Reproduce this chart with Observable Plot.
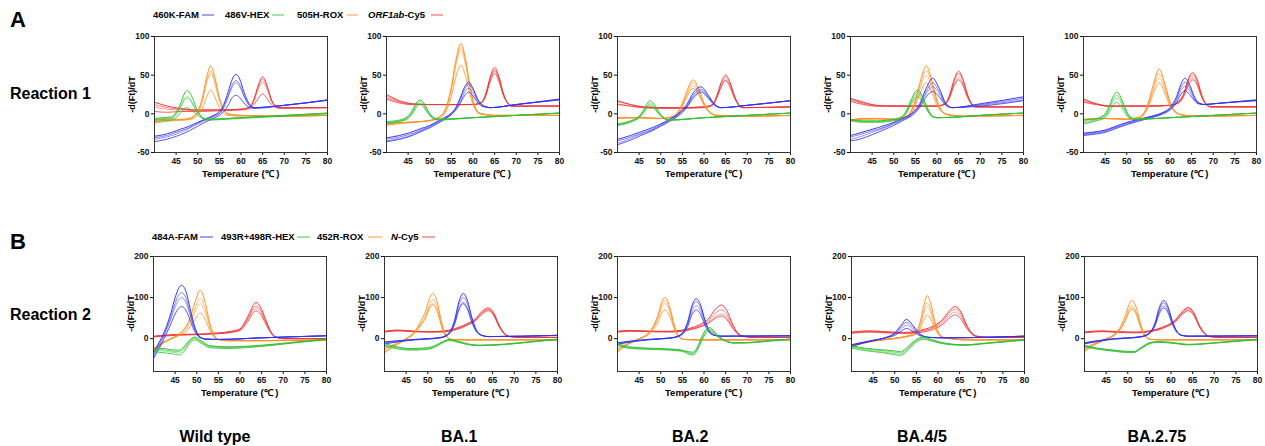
<!DOCTYPE html>
<html><head><meta charset="utf-8">
<script src="https://cdn.jsdelivr.net/npm/d3@7"></script>
<script src="https://cdn.jsdelivr.net/npm/@observablehq/plot@0.6"></script>
<style>
body{margin:0;background:#fff;}
#root{position:relative;width:1265px;height:446px;background:#fff;font-family:Arial,"Liberation Sans",sans-serif;color:#000;overflow:hidden;}
.t{position:absolute;white-space:nowrap;font-weight:bold;line-height:1;}
.lg{position:absolute;overflow:visible;}
</style></head>
<body><div id="root"></div>
<script>
// ---------- categories / labels ----------
const variants = ["Wild type", "BA.1", "BA.2", "BA.4/5", "BA.2.75"];
const reactions = ["Reaction 1", "Reaction 2"];
const panelLetters = ["A", "B"];
const channels = ["FAM", "HEX", "ROX", "Cy5"];
const legend1 = [["460K-FAM", ""], ["486V-HEX", ""], ["505H-ROX", ""], ["ORF1ab", "-Cy5"]];
const legend2 = [["484A-FAM", ""], ["493R+498R-HEX", ""], ["452R-ROX", ""], ["N", "-Cy5"]];
const xTicks = [45, 50, 55, 60, 65, 70, 75, 80];
const yTicks1 = [-50, 0, 50, 100];
const yTicks2 = [0, 100, 200];
const yDomain1 = [-50, 100];
const yDomain2 = [-80, 200];

// ---------- data: rows are [temperature, rep1, rep2, rep3, rep4] ----------
// Reaction 1 — Wild type
const a_wt_fam = [[40,-29,-31,-33,-36],[42,-27,-29,-31,-34],[44,-24,-26,-28,-31],[46,-20,-22,-24,-27],[48,-16,-18,-19,-22],[50,-11,-12,-13,-16],[52,-6,-7,-8,-10],[54,-1,-2,-3,-5],[55,3,1,0,-2],[56,12,9,8,3],[57,28,23,21,11],[58,45,38,35,21],[58.8,51,43,40,24],[59.7,45,38,35,21],[60.7,28,24,22,14],[61.7,15,13,12,9],[63,8,8,8,7],[70,11,11,11,11],[80,18,18,17.5,17.5]];
const a_wt_hex = [[40,-6,-7,-8,-10],[42,-5,-6,-7,-9],[44,-4,-5,-6,-8],[45,2,0,-2,-5],[46,13,9,8,1],[47,27,20,18,7],[47.6,30,22,20,8],[48.5,24,17,15,5],[49.5,10,6,5,0],[50.5,-1,-2,-2,-4],[52,-7,-7,-8,-8],[60,-5,-5,-5,-6],[70,-2,-2,-3,-3],[80,1,1,0.5,0]];
const a_wt_rox = [[40,-8,-9,-10,-12],[44,-7,-8,-8,-9],[47,-7,-7,-8,-8],[49,-3,-4,-4,-6],[50,4,2,1,-2],[51,19,16,15,6],[52,46,40,38,21],[53,62,55,52,31],[54,46,41,38,21],[55,21,18,17,8],[56,6,5,4,0],[57,0,0,-1,-2],[60,-2,-2,-2,-3],[70,-3,-3,-3,-3],[80,-2,-2,-2,-2]];
const a_wt_cy5 = [[40,15,12,9,3],[43,10,8,6,2],[46,7,6,5,3],[50,5,5,4,3],[55,5,5,5,4],[60,6,6,6,5],[62,9,9,8,7],[63,19,18,17,12],[64,37,35,32,20],[65,48,45,41,26],[66,37,35,32,20],[67,19,18,17,12],[68,10,10,9,8],[69,8,8,8,7],[80,8,8,8,8]];
// Reaction 1 — BA.1
const a_ba1_fam = [[40,-31,-33,-35,-36],[43,-28,-30,-32,-33],[45,-25,-27,-29,-30],[48,-19,-21,-22,-23],[50,-15,-16,-17,-18],[52,-9,-10,-11,-12],[54,-3,-4,-5,-5],[55,1,0,-1,-1],[56,8,7,5,5],[57,20,18,15,13],[58,34,31,27,23],[59,41,38,33,28],[60,33,31,27,23],[61,20,19,17,15],[62,12,12,11,10],[64,8,8,8,8],[70,12,12,12,12],[80,19,19,18,18]];
const a_ba1_hex = [[40,-10,-11,-12,-13],[43,-8,-9,-10,-10],[45,-3,-4,-5,-6],[46,5,3,2,0],[47,15,13,11,9],[47.7,18,16,14,12],[48.5,15,13,11,9],[49.5,5,4,2,1],[50.5,-3,-4,-4,-5],[52,-7,-7,-7,-8],[60,-5,-5,-5,-5],[70,-2,-2,-2,-2],[80,1,1,1,1]];
const a_ba1_rox = [[40,-12,-13,-14,-15],[44,-11,-11,-12,-12],[48,-10,-10,-10,-10],[51,-7,-7,-7,-8],[53,0,0,-1,-3],[54,12,11,10,6],[55,35,33,31,23],[56,68,64,61,47],[57.2,91,86,82,63],[58.3,70,66,63,48],[59.3,36,34,32,25],[60.3,12,11,10,8],[61.5,1,1,1,0],[65,-2,-2,-2,-2],[80,-2,-2,-2,-2]];
const a_ba1_cy5 = [[40,25,23,21,19],[43,17,16,15,14],[46,13,13,12,12],[50,12,12,12,12],[55,12,12,12,12],[60,12,12,12,12],[62,15,15,15,14],[63,27,26,25,24],[64,48,46,44,42],[65,60,57,55,52],[66,48,46,44,42],[67,27,26,25,24],[68,14,14,14,14],[69,10,10,10,10],[80,10,10,10,10]];
// Reaction 1 — BA.2
const a_ba2_fam = [[40,-33,-35,-38,-40],[43,-28,-30,-32,-34],[45,-24,-26,-27,-29],[48,-18,-20,-21,-22],[50,-13,-14,-15,-16],[52,-7,-8,-9,-10],[54,0,-1,-2,-3],[56,12,10,9,8],[57.5,27,24,22,20],[59.3,35,32,30,28],[61,24,22,21,20],[62.5,12,12,11,11],[64,8,8,8,8],[70,11,11,11,11],[80,17,17,17,17]];
const a_ba2_hex = [[40,-13,-14,-15,-15],[43,-9,-10,-10,-11],[45,-3,-4,-5,-5],[46,5,3,2,1],[47,14,11,10,8],[47.5,17,14,12,10],[48.3,14,11,10,8],[49.3,5,3,2,1],[50.5,-4,-5,-5,-5],[52,-8,-8,-8,-8],[60,-5,-5,-5,-5],[70,-2,-2,-2,-2],[80,1,1,1,1]];
const a_ba2_rox = [[40,-5,-5,-6,-6],[45,-5,-5,-5,-5],[50,-6,-6,-6,-6],[53,-3,-3,-3,-4],[54,3,2,1,0],[55,14,12,11,9],[56,29,26,24,21],[57.5,44,40,36,33],[59,29,26,24,22],[60,14,13,12,11],[61,4,4,3,3],[63,-2,-2,-2,-2],[70,-3,-3,-3,-3],[80,-2,-2,-2,-2]];
const a_ba2_cy5 = [[40,17,16,13,12],[43,12,12,10,10],[46,9,9,8,8],[50,8,8,8,7],[55,8,8,8,7],[60,9,9,9,8],[62,12,12,12,11],[63,24,23,22,21],[64,41,39,36,35],[65,50,47,44,43],[66,41,39,36,35],[67,24,23,22,21],[68,12,12,12,11],[69,8,8,8,8],[80,9,9,9,9]];
// Reaction 1 — BA.4/5
const a_ba45_fam = [[40,-28,-30,-33,-35],[42,-25,-27,-30,-33],[45,-20,-22,-24,-27],[48,-15,-17,-18,-20],[50,-11,-12,-13,-15],[52,-6,-7,-8,-9],[54,0,-1,-2,-3],[56,13,11,10,8],[57.5,33,29,26,22],[59,46,40,35,29],[60.5,33,29,26,22],[62,14,13,12,11],[63.5,8,8,8,8],[70,13,12,11,10],[80,22,20,18,17]];
const a_ba45_hex = [[40,-7,-8,-8,-9],[43,-9,-10,-10,-11],[46,-9,-10,-10,-11],[50,-7,-8,-8,-9],[52,-3,-4,-4,-5],[53,5,4,3,1],[54,18,16,14,12],[55.5,31,28,25,22],[57,18,16,14,12],[58,5,4,3,2],[59,-3,-3,-4,-4],[60,-5,-5,-5,-5],[65,-4,-4,-4,-4],[70,-2,-2,-2,-2],[80,1,1,1,1]];
const a_ba45_rox = [[40,-8,-8,-9,-9],[43,-6,-6,-7,-7],[46,-6,-6,-6,-7],[50,-7,-7,-7,-7],[53,-3,-3,-4,-4],[54,4,3,2,0],[55,18,16,14,11],[56,39,35,31,25],[57.5,62,56,50,40],[59,39,35,31,25],[60,18,16,14,11],[61,5,4,4,3],[62.5,-1,-1,-1,-1],[66,-3,-3,-3,-3],[80,-2,-2,-2,-2]];
const a_ba45_cy5 = [[40,20,19,18,16],[43,15,14,13,12],[46,11,11,10,10],[50,10,10,10,10],[55,10,10,10,10],[60,10,10,10,10],[62,14,14,13,13],[63,26,25,23,22],[64,45,43,39,37],[65,55,52,47,44],[66,45,43,39,37],[67,26,25,23,22],[68,13,13,13,12],[69,9,9,9,9],[80,9,9,9,9]];
// Reaction 1 — BA.2.75
const a_ba275_fam = [[40,-25,-26,-27,-28],[43,-23,-24,-25,-26],[45,-21,-22,-23,-24],[47,-17,-18,-19,-20],[50,-11,-12,-13,-14],[55,-4,-5,-5,-6],[58,1,0,0,-1],[60,8,7,6,5],[61.5,22,19,17,14],[62.5,38,34,30,25],[63.5,46,41,36,30],[64.5,38,34,30,25],[65.5,24,22,20,18],[66.5,15,14,14,13],[68,12,12,12,12],[70,13,13,13,13],[80,18,18,17,17]];
const a_ba275_hex = [[40,-8,-10,-12,-13],[43,-6,-7,-8,-9],[45,0,-2,-3,-5],[46,11,8,6,3],[47,24,20,17,12],[47.6,28,24,20,15],[48.4,24,20,17,12],[49.4,11,8,6,3],[50.5,-2,-3,-4,-5],[52,-7,-7,-7,-7],[60,-5,-5,-5,-5],[70,-2,-2,-2,-2],[80,1,1,1,1]];
const a_ba275_rox = [[40,-7,-7,-8,-8],[45,-6,-6,-6,-6],[50,-7,-7,-7,-7],[53,-4,-4,-4,-5],[54,2,1,0,-1],[55,15,13,11,9],[56,35,31,28,24],[57.5,58,52,46,40],[59,35,31,28,24],[60,16,14,12,10],[61,5,4,3,3],[62.5,-1,-1,-1,-1],[66,-3,-3,-3,-3],[80,-2,-2,-2,-2]];
const a_ba275_cy5 = [[40,19,18,16,15],[43,13,13,12,12],[46,10,10,10,10],[55,10,10,10,10],[60,11,11,11,11],[62,16,15,15,14],[63.3,28,27,26,24],[64.3,46,44,41,38],[65.3,53,50,47,44],[66.3,44,42,39,37],[67.3,25,24,23,22],[68.3,13,13,13,12],[69.5,9,9,9,9],[80,9,9,9,9]];

// Reaction 2 — Wild type
const b_wt_fam = [[40,-35,-40,-45,-48],[41,-15,-20,-25,-30],[42,5,0,-5,-10],[43,30,25,20,12],[44,62,53,47,36],[45,100,87,77,60],[46,126,109,97,76],[46.5,130,112,100,78],[47.5,115,99,88,69],[48.5,72,62,56,44],[49.5,30,26,23,18],[50.5,7,6,5,4],[52,-1,-1,-1,-1],[55,-2,-2,-2,-2],[65,2,2,2,2],[80,7,7,7,7]];
const b_wt_hex = [[40,-22,-25,-28,-32],[43,-25,-28,-31,-35],[45,-28,-31,-34,-38],[46,-28,-31,-35,-40],[47,-20,-23,-27,-32],[48,-8,-10,-13,-17],[49.5,4,2,0,-3],[51,-5,-7,-9,-11],[53,-17,-18,-20,-22],[57,-20,-21,-22,-24],[65,-16,-17,-18,-19],[72,-9,-10,-10,-11],[80,-1,-2,-2,-3]];
const b_wt_rox = [[40,-25,-28,-30,-32],[42,-10,-11,-12,-13],[44,0,0,-1,-1],[46,12,10,9,8],[47.5,30,26,23,17],[48.5,52,44,39,29],[49.5,85,71,62,45],[50.8,118,98,85,62],[52,85,71,62,45],[53,38,32,28,20],[54,8,7,6,4],[55,-2,-2,-2,-2],[57,-5,-5,-5,-5],[65,-5,-5,-5,-5],[80,-3,-3,-3,-3]];
const b_wt_cy5 = [[40,6,5,5,4],[45,10,9,9,8],[50,11,10,10,10],[55,14,13,13,12],[58,18,17,16,15],[60,24,22,21,20],[61,38,35,33,30],[62,58,53,50,45],[63,80,73,68,62],[63.7,88,80,75,68],[64.7,78,71,66,60],[66,45,41,38,35],[67,20,18,17,16],[68,6,5,5,5],[70,0,0,0,0],[80,0,0,0,0]];
// Reaction 2 — BA.1
const b_ba1_fam = [[40,-8,-10,-12,-13],[43,-5,-6,-7,-8],[47,-2,-2,-3,-3],[50,0,0,-1,-1],[53,3,3,2,2],[55,15,14,12,12],[56.2,45,41,36,35],[57.2,90,82,72,70],[58.2,110,100,88,85],[59.2,92,84,74,71],[60.2,52,47,41,40],[61.2,22,20,18,18],[62.5,8,8,8,8],[64,5,5,5,5],[80,8,8,8,8]];
const b_ba1_hex = [[40,-12,-15,-17,-18],[43,-20,-22,-24,-25],[46,-24,-26,-27,-28],[50,-22,-24,-25,-26],[52,-15,-17,-18,-19],[53.5,-7,-8,-9,-10],[55,-2,-3,-4,-5],[57,-6,-7,-8,-9],[59,-12,-13,-14,-14],[62,-16,-16,-17,-17],[68,-13,-14,-14,-14],[74,-7,-8,-8,-8],[80,-1,-2,-2,-2]];
const b_ba1_rox = [[40,-25,-30,-33,-35],[42,-15,-17,-19,-20],[45,0,-1,-1,-2],[47,18,15,14,14],[48.5,45,38,35,34],[49.5,67,57,52,50],[50.3,95,81,74,72],[51.2,110,95,85,83],[52.2,88,76,68,66],[53.2,40,34,31,30],[54.2,8,7,6,6],[55.5,-2,-2,-2,-2],[60,-3,-3,-3,-3],[80,-3,-3,-3,-3]];
const b_ba1_cy5 = [[40,18,17,17,16],[43,21,20,19,19],[47,18,18,17,17],[50,17,17,16,16],[53,18,17,17,16],[55,21,20,19,18],[57,27,25,24,23],[59,36,34,33,32],[61,48,46,44,43],[62.5,66,63,61,59],[64,75,72,70,68],[65.3,62,59,57,55],[66.5,33,31,30,29],[67.8,12,11,11,10],[69,5,5,5,5],[72,3,3,3,3],[80,3,3,3,3]];
// Reaction 2 — BA.2
const b_ba2_fam = [[40,-10,-12,-13,-14],[43,-6,-7,-8,-8],[47,-2,-2,-3,-3],[50,0,0,0,-1],[53,3,3,3,2],[55,14,13,12,10],[56.2,40,37,33,29],[57.2,80,74,66,58],[58.2,97,90,80,70],[59.2,82,76,68,59],[60.2,46,43,38,33],[61.2,20,19,17,15],[62.5,8,8,8,8],[64,6,6,6,6],[80,7,7,7,7]];
const b_ba2_hex = [[40,-12,-14,-15,-17],[43,-20,-22,-23,-24],[47,-23,-24,-25,-26],[52,-25,-26,-27,-28],[55,-28,-29,-30,-31],[56.5,-32,-34,-36,-38],[57.5,-33,-36,-38,-40],[58.5,-20,-23,-25,-28],[59.5,5,1,-2,-5],[60.5,23,19,16,13],[61.3,27,24,21,19],[62.3,18,16,14,12],[63.5,5,4,3,2],[65,-5,-5,-6,-6],[67,-10,-10,-11,-11],[71,-9,-9,-10,-10],[75,-5,-5,-6,-6],[80,-1,-1,-2,-2]];
const b_ba2_rox = [[40,-25,-28,-30,-33],[42,-14,-15,-16,-17],[45,0,0,-1,-1],[47,12,11,10,9],[48.5,35,32,30,25],[49.5,62,57,53,44],[50.2,88,81,75,62],[51,100,92,85,70],[52,80,73,68,56],[53,38,35,32,27],[54,8,7,7,6],[55.3,-2,-2,-2,-2],[60,-3,-3,-3,-3],[80,-3,-3,-3,-3]];
const b_ba2_cy5 = [[40,18,17,17,16],[43,20,19,19,18],[48,18,18,17,17],[52,18,17,17,16],[55,21,20,19,18],[57,26,24,23,22],[59,34,31,29,28],[61,48,43,39,37],[62.5,70,61,53,49],[64,82,70,60,55],[65.3,68,58,50,46],[66.5,38,33,29,27],[67.8,14,13,12,11],[69,6,6,6,5],[72,3,3,3,3],[80,3,3,3,3]];
// Reaction 2 — BA.4/5
const b_ba45_fam = [[40,-15,-17,-18,-20],[42,-10,-11,-12,-13],[45,-4,-4,-5,-5],[48,3,3,2,2],[50,14,12,10,8],[51.5,33,28,23,18],[52.7,47,40,33,25],[54,35,30,25,19],[55.3,17,15,12,10],[56.5,7,6,6,5],[58,3,3,3,3],[62,2,2,2,2],[80,6,6,6,6]];
const b_ba45_hex = [[40,-17,-19,-21,-23],[43,-23,-25,-27,-29],[47,-27,-29,-32,-34],[50,-30,-33,-36,-39],[51.3,-32,-35,-38,-41],[52.5,-25,-28,-31,-34],[54,-10,-13,-15,-18],[55.5,1,-1,-3,-5],[56.7,4,2,0,-2],[58,0,-2,-3,-4],[60,-7,-8,-9,-10],[63,-13,-14,-14,-15],[66,-15,-15,-16,-16],[72,-10,-10,-11,-11],[80,-2,-3,-3,-4]];
const b_ba45_rox = [[40,-15,-16,-17,-18],[43,-9,-10,-10,-11],[46,-4,-4,-5,-5],[50,1,1,0,0],[53,7,6,6,5],[54.8,15,13,12,10],[55.8,38,32,29,23],[56.7,80,66,60,45],[57.5,105,87,78,58],[58.4,82,68,61,46],[59.3,40,34,30,24],[60.3,12,10,9,8],[61.5,2,2,2,2],[63,0,0,0,0],[66,-3,-3,-3,-3],[80,-3,-3,-3,-3]];
const b_ba45_cy5 = [[40,16,15,14,13],[44,19,18,17,16],[48,17,16,15,14],[52,15,14,14,13],[55,18,16,15,14],[57,23,21,19,17],[59,31,28,26,23],[61,46,42,38,34],[62.5,66,61,55,49],[64,78,72,65,58],[65.3,65,60,54,48],[66.5,36,33,30,27],[67.8,14,13,12,11],[69,6,6,5,5],[72,3,3,3,3],[80,3,3,3,3]];
// Reaction 2 — BA.2.75
const b_ba275_fam = [[40,-10,-11,-12,-13],[43,-5,-6,-6,-7],[47,0,0,-1,-1],[50,2,2,1,1],[53,5,5,4,4],[55,14,13,12,12],[56.3,38,35,33,31],[57.3,76,71,65,61],[58.3,93,87,80,75],[59.3,78,73,67,63],[60.3,44,41,38,36],[61.3,19,18,17,16],[62.5,8,8,8,8],[64,6,6,6,6],[80,7,7,7,7]];
const b_ba275_hex = [[40,-16,-18,-19,-20],[43,-23,-24,-25,-26],[47,-28,-29,-30,-31],[50,-31,-32,-33,-34],[51.5,-31,-32,-33,-34],[53,-22,-23,-24,-25],[55,-10,-11,-12,-13],[57,-7,-8,-8,-9],[60,-9,-10,-10,-11],[64,-14,-14,-15,-15],[70,-10,-10,-11,-11],[76,-5,-5,-6,-6],[80,-1,-2,-2,-2]];
const b_ba275_rox = [[40,-25,-28,-30,-32],[42,-13,-15,-16,-17],[45,0,-1,-1,-2],[47,12,10,10,9],[48.5,33,28,27,26],[49.5,58,50,47,45],[50.2,80,69,64,62],[51,93,80,75,72],[52,75,64,60,58],[53,35,30,28,27],[54,8,7,7,6],[55.3,-2,-2,-2,-2],[60,-3,-3,-3,-3],[80,-3,-3,-3,-3]];
const b_ba275_cy5 = [[40,16,15,15,14],[44,19,18,18,17],[48,17,16,16,15],[52,16,15,15,14],[55,19,18,17,17],[57,24,23,22,21],[59,32,31,30,29],[61,46,44,42,41],[62.5,65,62,60,58],[64,76,73,70,68],[65.3,63,60,58,56],[66.5,34,32,31,30],[67.8,13,12,12,11],[69,5,5,5,5],[72,3,3,3,3],[80,3,3,3,3]];

// ---------- assembly ----------
const row1 = [
  [a_wt_fam, a_wt_hex, a_wt_rox, a_wt_cy5],
  [a_ba1_fam, a_ba1_hex, a_ba1_rox, a_ba1_cy5],
  [a_ba2_fam, a_ba2_hex, a_ba2_rox, a_ba2_cy5],
  [a_ba45_fam, a_ba45_hex, a_ba45_rox, a_ba45_cy5],
  [a_ba275_fam, a_ba275_hex, a_ba275_rox, a_ba275_cy5]
];
const row2 = [
  [b_wt_fam, b_wt_hex, b_wt_rox, b_wt_cy5],
  [b_ba1_fam, b_ba1_hex, b_ba1_rox, b_ba1_cy5],
  [b_ba2_fam, b_ba2_hex, b_ba2_rox, b_ba2_cy5],
  [b_ba45_fam, b_ba45_hex, b_ba45_rox, b_ba45_cy5],
  [b_ba275_fam, b_ba275_hex, b_ba275_rox, b_ba275_cy5]
];

const colors = {FAM: "#3030f0", HEX: "#2fbf2f", ROX: "#ff8f1f", Cy5: "#f23535"};
const repOpacity = [0.95, 0.6, 0.5, 0.8];
const drawOrder = ["Cy5", "ROX", "FAM", "HEX"];

const root = document.getElementById("root");
function addText(txt, x, y, size, opts = {}) {
  const d = document.createElement("div");
  d.className = "t";
  d.style.fontSize = size + "px";
  d.innerHTML = txt;
  root.appendChild(d);
  const w = d.offsetWidth, h = d.offsetHeight;
  let left = x, top = y - h / 2;
  if (opts.anchor === "middle") left = x - w / 2;
  if (opts.rotate) {
    d.style.left = (x - w / 2) + "px";
    d.style.top = (y - h / 2) + "px";
    d.style.transform = "rotate(-90deg)";
    return d;
  }
  d.style.left = left + "px";
  d.style.top = top + "px";
  return d;
}

const ML = 30, MR = 4, MT = 6, MB = 16, FW = 173;
const frameLeft1 = [154, 385.5, 617, 850, 1083];
const frameLeft2 = [153, 384, 617, 851, 1084];
const rowsCfg = [
  {data: row1, top: 36, fh: 116, yDomain: yDomain1, yTicks: yTicks1, lefts: frameLeft1},
  {data: row2, top: 256, fh: 115, yDomain: yDomain2, yTicks: yTicks2, lefts: frameLeft2}
];

rowsCfg.forEach((cfg, ri) => {
  cfg.data.forEach((panelSeries, pi) => {
    const pts = [];
    drawOrder.forEach(ch => {
      const rows = panelSeries[channels.indexOf(ch)];
      for (let r = 0; r < 4; r++) for (const row of rows) pts.push({ch, rep: r, key: ch + r, t: row[0], v: row[r + 1]});
    });
    const svg = Plot.plot({
      width: ML + FW + MR, height: MT + cfg.fh + MB,
      marginLeft: ML, marginRight: MR, marginTop: MT, marginBottom: MB,
      style: {background: "transparent", fontFamily: "Arial, 'Liberation Sans', sans-serif", fontSize: "8.5px", fontWeight: "bold", color: "#111", overflow: "visible"},
      x: {domain: [40, 80], ticks: xTicks, tickSize: 3, tickPadding: 2, label: null, tickFormat: d => String(d)},
      y: {domain: cfg.yDomain, ticks: cfg.yTicks, tickSize: 3, tickPadding: 2, label: null, tickFormat: d => String(d)},
      marks: [
        Plot.lineY(pts, {x: "t", y: "v", z: "key", stroke: d => colors[d.ch], strokeOpacity: d => repOpacity[d.rep], strokeWidth: 1, curve: "monotone-x", clip: true}),
        Plot.frame({stroke: "#333", strokeWidth: 1})
      ]
    });
    svg.style.position = "absolute";
    svg.style.left = (cfg.lefts[pi] - ML) + "px";
    svg.style.top = (cfg.top - MT) + "px";
    root.appendChild(svg);
    const cx = cfg.lefts[pi] + FW / 2;
    addText("-d(Ft)/dT", cfg.lefts[pi] - 22, cfg.top + cfg.fh / 2, 9, {rotate: true});
    addText("Temperature (℃ )", cx, cfg.top + cfg.fh + 22, 9.5, {anchor: "middle"});
  });
});

// panel letters and reaction labels
addText(panelLetters[0], 10, 20, 22);
addText(panelLetters[1], 10, 242, 22);
addText(reactions[0], 10, 94, 16);
addText(reactions[1], 10, 315, 16);

// variant labels along the bottom
const variantX = [215, 459, 690, 922, 1157];
variants.forEach((v, i) => addText(v, variantX[i], 437, 16, {anchor: "middle"}));

// legends
const NS = "http://www.w3.org/2000/svg";
function legend(items, xs, lineXs, y) {
  items.forEach((it, i) => {
    const html = (it[1] ? "<i>" + it[0] + "</i>" + it[1] : it[0]);
    addText(html, xs[i], y, 9.5);
    const [x0, x1] = lineXs[i];
    const s = document.createElementNS(NS, "svg");
    s.setAttribute("class", "lg");
    s.setAttribute("width", x1 - x0);
    s.setAttribute("height", 4);
    s.style.left = x0 + "px";
    s.style.top = (y - 2) + "px";
    const ln = document.createElementNS(NS, "line");
    ln.setAttribute("x1", 0); ln.setAttribute("x2", x1 - x0);
    ln.setAttribute("y1", 2); ln.setAttribute("y2", 2);
    ln.setAttribute("stroke", colors[channels[i]]);
    ln.setAttribute("stroke-width", 1.2);
    ln.setAttribute("stroke-opacity", 0.75);
    s.appendChild(ln);
    root.appendChild(s);
  });
}
legend(legend1, [153, 225, 297, 368], [[202, 214], [272, 284], [347, 358], [431, 443]], 15);
legend(legend2, [152, 221, 317, 391], [[200, 213], [297, 310], [368, 382], [422, 435]], 237);
</script>
</body></html>
